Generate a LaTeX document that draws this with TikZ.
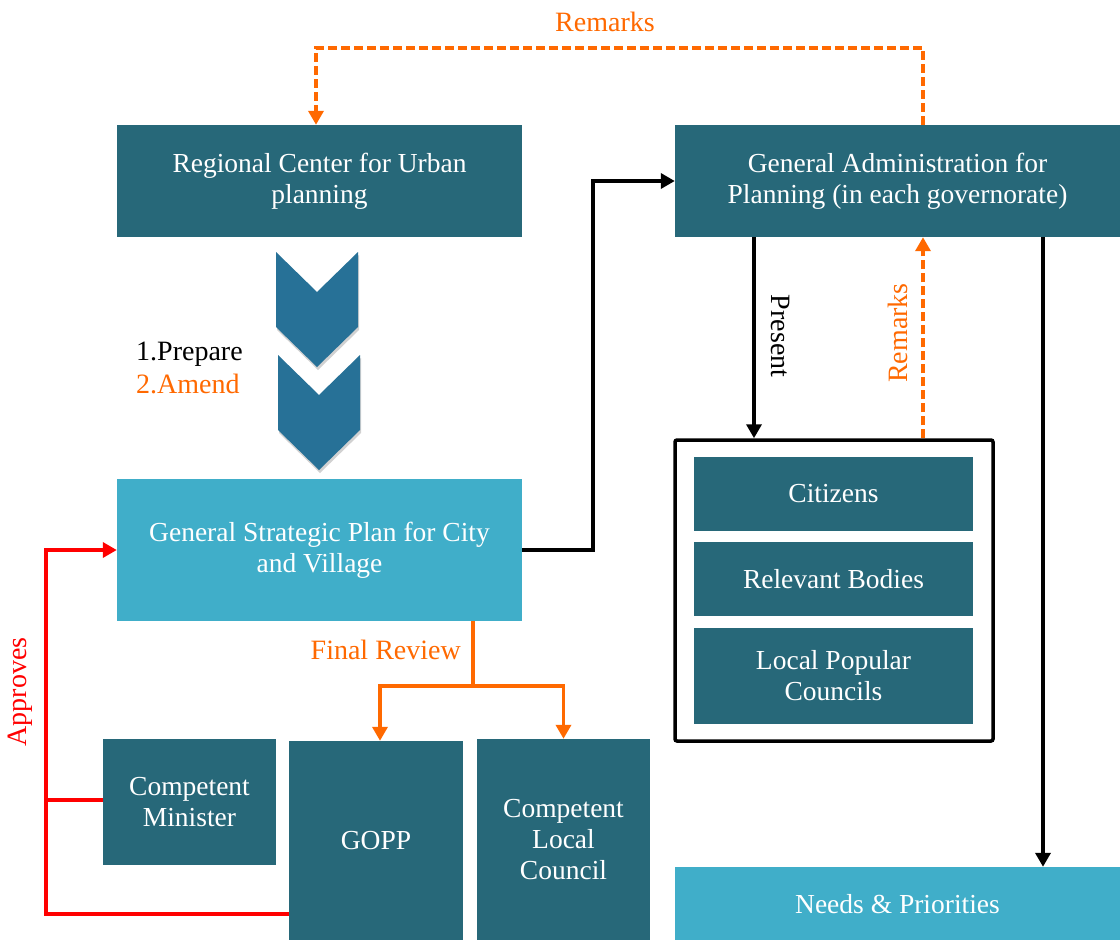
\documentclass[tikz,border=0pt]{standalone}
\usepackage{fontspec}
\setmainfont{Liberation Serif}
\usetikzlibrary{arrows.meta}
\definecolor{teal1}{RGB}{39,104,121}
\definecolor{light1}{RGB}{64,174,201}
\definecolor{chev}{RGB}{39,113,151}
\definecolor{orng}{RGB}{255,105,0}
\definecolor{rd}{RGB}{255,0,0}
\begin{document}
\begin{tikzpicture}[x=1pt,y=-1pt,
  dbox/.style={fill=teal1,text=white,align=center,inner sep=0pt,font=\fontsize{27.5}{31}\selectfont},
  lbox/.style={fill=light1,text=white,align=center,inner sep=0pt,font=\fontsize{27.5}{31}\selectfont},
  blk/.style={line width=3.5pt,draw=black,-{Triangle[width=15pt,length=14pt]}},
  orn/.style={line width=3.5pt,draw=orng},
  ornarr/.style={orn,-{Triangle[width=15pt,length=14pt]}},
  orndash/.style={ornarr,dash pattern=on 9pt off 4pt},
  rdl/.style={line width=4pt,draw=rd},
  lbl/.style={font=\fontsize{28}{32}\selectfont,inner sep=0pt}
]
\useasboundingbox (0,0) rectangle (1120,940);
\fill[white] (0,0) rectangle (1120,940);

% boxes
\node[dbox,minimum width=405pt,minimum height=112pt] (rc) at (319.5,181) {Regional Center for Urban\\planning};
\node[dbox,minimum width=445pt,minimum height=112pt] (ga) at (897.5,181) {General Administration for\\Planning (in each governorate)};
\node[lbox,minimum width=405pt,minimum height=142pt] (gsp) at (319.5,550) {General Strategic Plan for City\\and Village};
\node[dbox,minimum width=173pt,minimum height=126pt] (min) at (189.5,802) {Competent\\Minister};
\node[dbox,minimum width=174pt,minimum height=199pt] (gopp) at (376,840.5) {GOPP};
\node[dbox,minimum width=173pt,minimum height=201pt] (clc) at (563.5,839.5) {Competent\\Local\\Council};
\node[draw=black,line width=3.5pt,rounded corners=2pt,minimum width=318pt,minimum height=301pt,inner sep=0pt] (frame) at (834,590.5) {};
\node[dbox,minimum width=279pt,minimum height=74pt] (cit) at (833.5,494) {Citizens};
\node[dbox,minimum width=279pt,minimum height=74pt] (rel) at (833.5,579) {Relevant Bodies};
\node[dbox,minimum width=279pt,minimum height=96pt] (lpc) at (833.5,676) {Local Popular\\Councils};
\node[lbox,minimum width=445pt,minimum height=74pt] (needs) at (897.5,904) {Needs \& Priorities};

% chevrons
\fill[black,opacity=0.18] (277,255) -- (318,295) -- (359,255) -- (359,330) -- (318,370) -- (277,330) -- cycle;
\fill[chev] (276,252) -- (317,292) -- (358,252) -- (358,327) -- (317,367) -- (276,327) -- cycle;
\fill[black,opacity=0.18] (279,358) -- (320,398) -- (361,358) -- (361,433) -- (320,473) -- (279,433) -- cycle;
\fill[chev] (278,355) -- (319,395) -- (360,355) -- (360,430) -- (319,470) -- (278,430) -- cycle;
\node[lbl,anchor=west] (prep) at (136,354) {1.Prepare};
\node[lbl,anchor=west,text=orng] (amend) at (136,384) {2.Amend};

% GSP -> GA
\draw[blk] (gsp.east) -- (593,550) |- (ga.west);

% final review
\draw[orn] ([xshift=153.5pt]gsp.south) -- (473,686);
\draw[ornarr] (473,686) -| ([xshift=4pt]gopp.north);
\draw[ornarr] (473,686) -| (clc.north);
\node[lbl,text=orng,anchor=east] (fr) at (461,650) {Final Review};

% approves
\draw[rdl,-{Triangle[width=15pt,length=14pt]}] ([yshift=-73.5pt]gopp.west) -| (46,550) -- (gsp.west);
\draw[rdl] ([yshift=2pt]min.west) -- (46,800);
\node[lbl,text=rd,rotate=90] (appr) at (20,692) {Approves};

% remarks top
\draw[orndash] ([xshift=25.5pt]ga.north) -- (923,48) -| ([xshift=-3.5pt]rc.north);
\node[lbl,text=orng] (rem1) at (605,22) {Remarks};

% present
\draw[blk] ([xshift=-143.5pt]ga.south) -- ([xshift=-80pt]frame.north);
\node[lbl,rotate=-90] (pres) at (781,336) {Present};
\draw[orndash] ([xshift=89pt]frame.north) -- ([xshift=25.5pt]ga.south);
\node[lbl,text=orng,rotate=90] (rem2) at (898,333) {Remarks};

% needs
\draw[blk] ([xshift=145.5pt]ga.south) -- ([xshift=145.5pt]needs.north);
\end{tikzpicture}
\end{document}
